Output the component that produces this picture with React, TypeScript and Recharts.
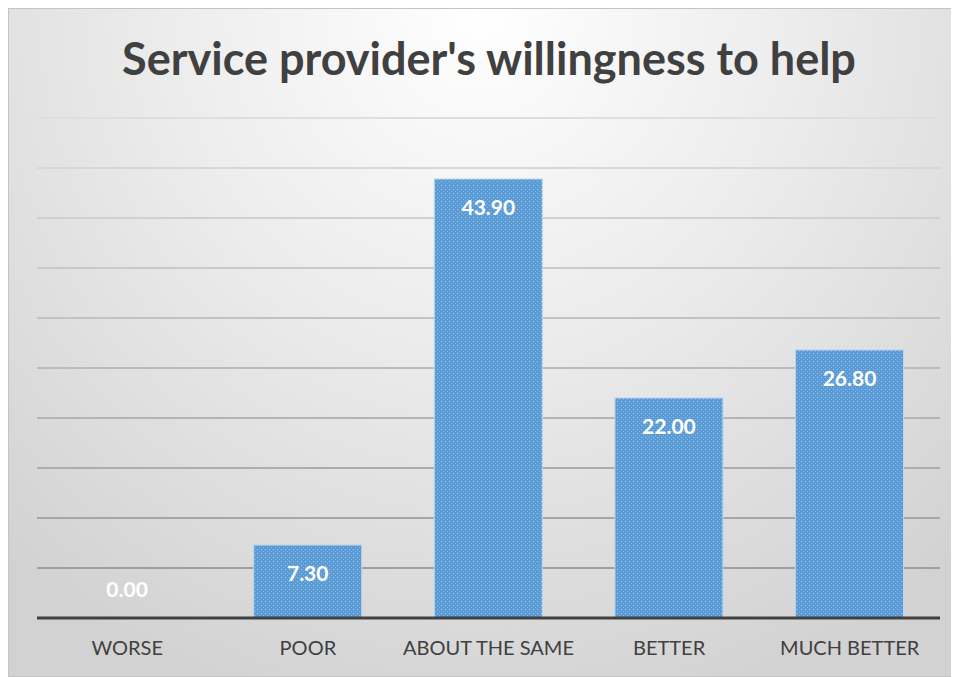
import React from "react";
import { BarChart, Bar, XAxis, YAxis, CartesianGrid } from "recharts";

const categories = ["WORSE", "POOR", "ABOUT THE SAME", "BETTER", "MUCH BETTER"];
const scores = [0.0, 7.3, 43.9, 22.0, 26.8];
const yTicks = [0, 5, 10, 15, 20, 25, 30, 35, 40, 45, 50];

const data = categories.map((name, i) => ({ name, value: scores[i] }));

const W = 944;
const H = 669;
const PLOT_TOP = 110;
const PLOT_BOTTOM = 610;
const FONT = "Lato, 'Open Sans', sans-serif";

// gridlines fade from pale at the top to mid grey near the base
const GridLine = (props: any) => {
  const { x1, x2, y1, y2 } = props;
  const t = Math.max(0, Math.min(1, (y1 - PLOT_TOP) / (PLOT_BOTTOM - PLOT_TOP)));
  const c = Math.round(222 - t * 70);
  return (
    <line
      x1={x1}
      x2={x2}
      y1={y1}
      y2={y2}
      stroke={`rgb(${c},${c},${c})`}
      strokeWidth={2}
    />
  );
};

// bar rectangle with its value printed inside the top end
const BarWithValue = (props: any) => {
  const { x, y, width, height, value, payload } = props;
  const v = payload ? payload.value : value;
  const h = Math.max(0, height || 0);
  const cx = x + width / 2;
  const cy = h < 30 ? y + h - 26 : y + 31;
  return (
    <g>
      {h > 0 && (
        <rect
          x={x}
          y={y}
          width={width}
          height={h}
          fill="url(#dotFill)"
          stroke="#bcd6ee"
          strokeWidth={1}
        />
      )}
      <text
        x={cx}
        y={cy}
        textAnchor="middle"
        dominantBaseline="middle"
        fill="#ffffff"
        fontFamily={FONT}
        fontWeight={700}
        fontSize={21}
      >
        {Number(v).toFixed(2)}
      </text>
    </g>
  );
};

const CategoryTick = (props: any) => {
  const { x, y, payload } = props;
  return (
    <text
      x={x}
      y={y + 24}
      textAnchor="middle"
      dominantBaseline="middle"
      fill="#404040"
      fontFamily={FONT}
      fontSize={20}
    >
      {payload.value}
    </text>
  );
};

export default function App() {
  return (
    <div
      style={{
        position: "relative",
        width: W,
        height: H,
        boxSizing: "border-box",
        border: "1px solid #c4c4c4",
        background:
          "radial-gradient(ellipse 75% 110% at 50% 0%, #ffffff 0%, #ececec 45%, #d2d2d2 100%)",
      }}
    >
      <div
        style={{
          position: "absolute",
          left: 9,
          top: 24,
          width: W - 2,
          textAlign: "center",
          fontFamily: FONT,
          fontWeight: 700,
          fontSize: 45,
          color: "#404040",
          lineHeight: "50px",
        }}
      >
        Service provider's willingness to help
      </div>
      <div style={{ position: "absolute", left: -1, top: -1 }}>
        <BarChart
          width={W}
          height={H}
          data={data}
          margin={{ top: PLOT_TOP, right: 12, bottom: 0, left: 29 }}
          barCategoryGap="20%"
        >
          <defs>
            <pattern id="dotFill" width="4" height="4" patternUnits="userSpaceOnUse">
              <rect width="4" height="4" fill="#5b9bd5" />
              <rect x="1" y="1" width="1" height="1" fill="#a3c8ea" />
              <rect x="3" y="3" width="1" height="1" fill="#84b4e0" />
            </pattern>
          </defs>
          <CartesianGrid vertical={false} horizontal={<GridLine />} />
          <YAxis hide domain={[0, 50]} ticks={yTicks} />
          <XAxis
            dataKey="name"
            height={59}
            axisLine={{ stroke: "#404040", strokeWidth: 3 }}
            tickLine={false}
            tick={<CategoryTick />}
            interval={0}
          />
          <Bar
            dataKey="value"
            fill="url(#dotFill)"
            shape={<BarWithValue />}
            minPointSize={0}
            isAnimationActive={false}
          />
        </BarChart>
      </div>
    </div>
  );
}
